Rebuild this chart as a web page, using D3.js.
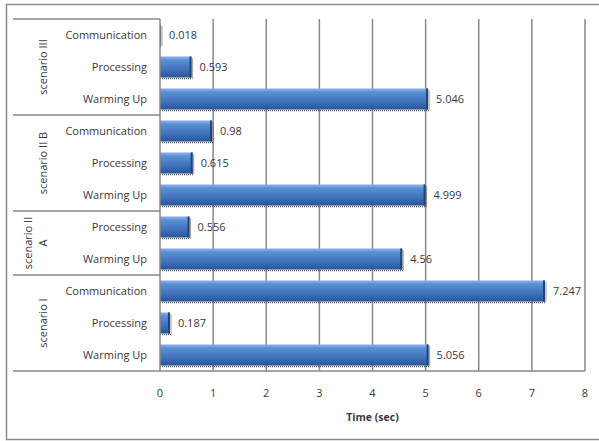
<!DOCTYPE html>
<html>
<head>
<meta charset="utf-8">
<script src="https://cdn.jsdelivr.net/npm/d3@7"></script>
<style>
  body { margin: 0; background: #fff; }
  text { font-family: "Open Sans", sans-serif; fill: #3a3a3a; }
</style>
</head>
<body>
<script>
// chart data, top to bottom
var categories = ["Communication", "Processing", "Warming Up",
                  "Communication", "Processing", "Warming Up",
                  "Processing", "Warming Up",
                  "Communication", "Processing", "Warming Up"];
var scenarioOf = ["scenario III", "scenario III", "scenario III",
                  "scenario II B", "scenario II B", "scenario II B",
                  "scenario II A", "scenario II A",
                  "scenario I", "scenario I", "scenario I"];
var values = [0.018, 0.593, 5.046, 0.98, 0.615, 4.999, 0.556, 4.56, 7.247, 0.187, 5.056];
var scenarios = ["scenario III", "scenario II B", "scenario II A", "scenario I"];
var scenarioLines = [["scenario III"], ["scenario II B"], ["scenario II", "A"], ["scenario I"]];
var xTicks = [0, 1, 2, 3, 4, 5, 6, 7, 8];
var axisTitle = "Time (sec)";

var W = 599, H = 441;
var plot = {left: 160, right: 585, top: 19, bottom: 371};

var svg = d3.select("body").append("svg")
    .attr("width", W)
    .attr("height", H);

// outer frame
svg.append("rect")
    .attr("x", 6.5).attr("y", 4.5)
    .attr("width", 620).attr("height", 435)
    .attr("fill", "#fff")
    .attr("stroke", "#8c8c8c")
    .attr("stroke-width", 1.5);

var x = d3.scaleLinear().domain([0, 8]).range([plot.left, plot.right]);
var y = d3.scaleBand().domain(d3.range(categories.length)).range([plot.top, plot.bottom]);

// gradient for the bars
var defs = svg.append("defs");
var grad = defs.append("linearGradient").attr("id", "barGrad")
    .attr("x1", 0).attr("y1", 0).attr("x2", 0).attr("y2", 1);
grad.append("stop").attr("offset", "0%").attr("stop-color", "#8db4e8");
grad.append("stop").attr("offset", "18%").attr("stop-color", "#5b8fd6");
grad.append("stop").attr("offset", "60%").attr("stop-color", "#3f74bd");
grad.append("stop").attr("offset", "100%").attr("stop-color", "#2a5592");

// vertical gridlines
svg.append("g").selectAll("line")
    .data(xTicks.slice(1))
  .enter().append("line")
    .attr("x1", function(d) { return x(d); })
    .attr("x2", function(d) { return x(d); })
    .attr("y1", plot.top)
    .attr("y2", plot.bottom)
    .attr("stroke", "#8a8a8a")
    .attr("stroke-width", 1.5);

// bars
var barH = y.bandwidth() * 0.66;
var bars = svg.append("g").selectAll("g")
    .data(values)
  .enter().append("g");

// dotted shadow under each bar
bars.append("line")
    .attr("x1", x(0))
    .attr("x2", function(d) { return x(d) + 1; })
    .attr("y1", function(d, i) { return y(i) + (y.bandwidth() + barH) / 2 + 1; })
    .attr("y2", function(d, i) { return y(i) + (y.bandwidth() + barH) / 2 + 1; })
    .attr("stroke", "#555")
    .attr("stroke-width", 1.2)
    .attr("stroke-dasharray", "1,1");

bars.append("line")
    .attr("x1", function(d) { return x(d) + 1; })
    .attr("x2", function(d) { return x(d) + 1; })
    .attr("y1", function(d, i) { return y(i) + (y.bandwidth() - barH) / 2 + 2; })
    .attr("y2", function(d, i) { return y(i) + (y.bandwidth() + barH) / 2 + 1; })
    .attr("stroke", "#555")
    .attr("stroke-width", 1.2)
    .attr("stroke-dasharray", "1,1");

bars.append("rect")
    .attr("x", x(0))
    .attr("y", function(d, i) { return y(i) + (y.bandwidth() - barH) / 2; })
    .attr("width", function(d) { return x(d) - x(0); })
    .attr("height", barH)
    .attr("fill", "url(#barGrad)");

// darker end cap
bars.append("rect")
    .attr("x", function(d) { return Math.max(x(0), x(d) - 2); })
    .attr("y", function(d, i) { return y(i) + (y.bandwidth() - barH) / 2; })
    .attr("width", function(d) { return Math.min(2, x(d) - x(0)); })
    .attr("height", barH)
    .attr("fill", "#1f4478");

// value labels
bars.append("text")
    .attr("x", function(d) { return x(d) + 8; })
    .attr("y", function(d, i) { return y(i) + y.bandwidth() / 2; })
    .attr("dy", "0.35em")
    .attr("font-size", 11)
    .text(function(d) { return String(d); });

// category labels
svg.append("g").selectAll("text")
    .data(categories)
  .enter().append("text")
    .attr("x", 147)
    .attr("y", function(d, i) { return y(i) + y.bandwidth() / 2; })
    .attr("dy", "0.35em")
    .attr("text-anchor", "end")
    .attr("font-size", 11)
    .text(function(d) { return d; });

// scenario boundaries
var bounds = scenarios.map(function(s) {
  var idx = d3.range(categories.length).filter(function(i) { return scenarioOf[i] === s; });
  return {name: s, y0: y(idx[0]), y1: y(idx[idx.length - 1]) + y.bandwidth()};
});

var sepYs = [plot.top].concat(bounds.map(function(b) { return b.y1; }));
svg.append("g").selectAll("line")
    .data(sepYs)
  .enter().append("line")
    .attr("x1", 13)
    .attr("x2", function(d, i) { return i === sepYs.length - 1 ? plot.right : plot.left; })
    .attr("y1", function(d) { return d; })
    .attr("y2", function(d) { return d; })
    .attr("stroke", "#8a8a8a")
    .attr("stroke-width", 1.5);

// category axis line
svg.append("line")
    .attr("x1", plot.left).attr("x2", plot.left)
    .attr("y1", plot.top).attr("y2", plot.bottom)
    .attr("stroke", "#8a8a8a")
    .attr("stroke-width", 1.5);

// scenario labels (rotated)
bounds.forEach(function(b, i) {
  var lines = scenarioLines[i];
  var cy = (b.y0 + b.y1) / 2;
  lines.forEach(function(line, j) {
    var cx = 43 - (lines.length - 1 - j) * 15;
    svg.append("text")
        .attr("transform", "translate(" + cx + "," + cy + ") rotate(-90)")
        .attr("text-anchor", "middle")
        .attr("dy", "0.35em")
        .attr("font-size", 11)
        .text(line);
  });
});

// x tick labels
svg.append("g").selectAll("text")
    .data(xTicks)
  .enter().append("text")
    .attr("x", function(d) { return x(d); })
    .attr("y", 393)
    .attr("dy", "0.35em")
    .attr("text-anchor", "middle")
    .attr("font-size", 11)
    .text(function(d) { return d; });

svg.append("text")
    .attr("x", (plot.left + plot.right) / 2)
    .attr("y", 417)
    .attr("dy", "0.35em")
    .attr("text-anchor", "middle")
    .attr("font-size", 10.5)
    .attr("font-weight", "bold")
    .text(axisTitle);
</script>
</body>
</html>
